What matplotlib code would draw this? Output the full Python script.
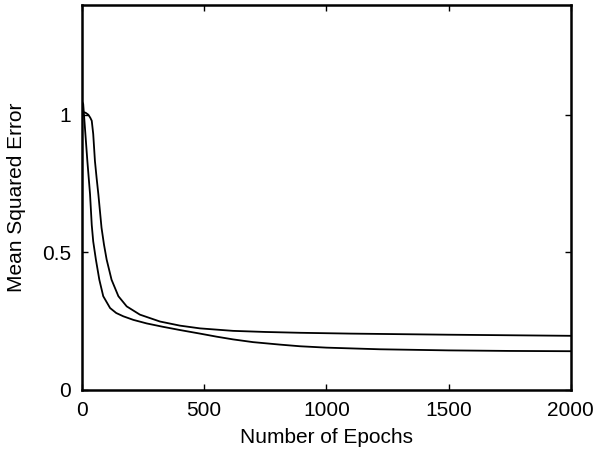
import matplotlib
matplotlib.use("Agg")
import matplotlib.pyplot as plt

# Training error curves (epoch, MSE)
epochs_a = [0, 15, 26, 34, 40, 46, 53, 60, 67, 80, 90, 101, 121, 149, 183, 237, 319, 401, 483, 618, 750, 892, 1100, 1300, 1500, 1750, 2000]
mse_a = [1.012, 1.008, 1.001, 0.990, 0.979, 0.931, 0.833, 0.770, 0.712, 0.590, 0.529, 0.474, 0.401, 0.341, 0.304, 0.274, 0.249, 0.234, 0.224, 0.215, 0.211, 0.208, 0.205, 0.203, 0.201, 0.199, 0.197]

epochs_b = [0, 5, 12, 22, 33, 40, 46, 57, 71, 87, 115, 140, 169, 210, 265, 330, 401, 483, 550, 618, 700, 810, 892, 1000, 1219, 1500, 1750, 2000]
mse_b = [1.050, 1.040, 0.955, 0.833, 0.712, 0.600, 0.540, 0.474, 0.401, 0.341, 0.298, 0.280, 0.268, 0.255, 0.242, 0.230, 0.218, 0.205, 0.194, 0.184, 0.174, 0.165, 0.159, 0.154, 0.148, 0.144, 0.142, 0.141]

x_ticks = [0, 500, 1000, 1500, 2000]
y_ticks = [0, 0.5, 1]

plt.rcParams['font.family'] = ['Liberation Sans', 'DejaVu Sans']

fig = plt.figure(figsize=(5.94, 4.54), dpi=100)
ax = fig.add_axes([0.138, 0.141, 0.823, 0.848])

ax.plot(epochs_a, mse_a, color='black', linewidth=1.3)
ax.plot(epochs_b, mse_b, color='black', linewidth=1.3)

ax.set_xlim(0, 2000)
ax.set_ylim(0, 1.4)
ax.set_xticks(x_ticks)
ax.set_yticks(y_ticks)
ax.set_yticklabels(['0', '0.5', '1'])
ax.tick_params(direction='in', length=4, width=1, top=True, right=True,
               labelsize=15, pad=8, colors='black')
for s in ax.spines.values():
    s.set_linewidth(1.8)

ax.set_xlabel('Number of Epochs', fontsize=15, labelpad=6)
ax.set_ylabel('Mean Squared Error', fontsize=15, labelpad=11)

fig.savefig('out.png', dpi=100)
